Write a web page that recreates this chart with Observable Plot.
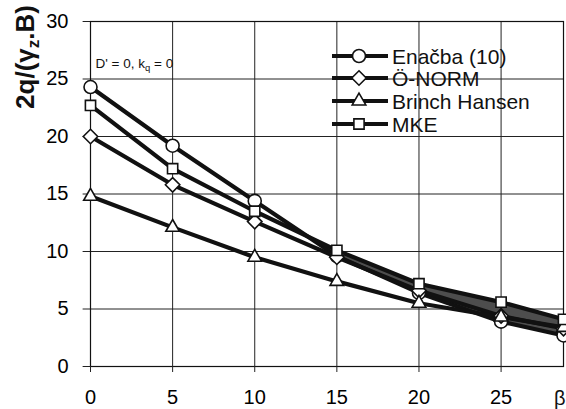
<!DOCTYPE html>
<html>
<head>
<meta charset="utf-8">
<script src="https://cdn.jsdelivr.net/npm/d3@7"></script>
<script src="https://cdn.jsdelivr.net/npm/@observablehq/plot@0.6"></script>
<style>
  html, body { margin: 0; padding: 0; background: #fff; }
  #chart svg { display: block; }
</style>
</head>
<body>
<div id="chart"></div>
<script>
// x values (β); the last point sits at the right edge of the plot, labelled "β"
const beta = [0, 5, 10, 15, 20, 25, 28.8];
const xTicks = [0, 5, 10, 15, 20, 25];
const xTickLabels = ["0", "5", "10", "15", "20", "25"];
const xTitle = "β";
const yTicks = [0, 5, 10, 15, 20, 25, 30];

const seriesNames = ["Enačba (10)", "Ö-NORM", "Brinch Hansen", "MKE"];
const seriesSymbols = ["circle", "diamond2", "triangle2", "square2"];
const enacba = [24.3, 19.2, 14.4, 9.6, 6.4, 3.9, 2.7];
const onorm = [20.0, 15.8, 12.6, 9.5, 6.6, 4.4, 3.3];
const brinch = [14.8, 12.1, 9.5, 7.4, 5.5, 4.3, 3.4];
const mke = [22.7, 17.2, 13.5, 10.1, 7.2, 5.6, 4.1];
const seriesValues = [enacba, onorm, brinch, mke];

const rows = [];
seriesNames.forEach((s, i) => {
  beta.forEach((b, j) => rows.push({series: s, symbol: seriesSymbols[i], x: b, y: seriesValues[i][j]}));
});
// dark overlap band where the thick lines of Enačba, Ö-NORM and MKE run together (β ≥ 15)
const band = beta.map((b, j) => ({
  x: b,
  lo: Math.min(enacba[j], onorm[j], mke[j]),
  hi: Math.max(enacba[j], onorm[j], mke[j])
})).filter(d => d.x >= 15);

const font = "Liberation Sans, Arial, sans-serif";
const xMax = 28.8;

const plot = Plot.plot({
  width: 566,
  height: 409,
  marginLeft: 90,
  marginRight: 3,
  marginTop: 21,
  marginBottom: 43,
  style: {fontFamily: font, background: "#fff"},
  x: {domain: [0, xMax], label: null},
  y: {domain: [0, 30], ticks: yTicks, label: null},
  marks: [
    Plot.gridX(xTicks, {stroke: "#222", strokeOpacity: 1, strokeWidth: 1}),
    Plot.gridY(yTicks, {stroke: "#222", strokeOpacity: 1, strokeWidth: 1, x1: -0.45, x2: xMax}),
    Plot.frame({stroke: "#111", strokeWidth: 1.2}),
    Plot.axisX({ticks: xTicks, tickFormat: (d, i) => xTickLabels[i], tickSize: 6, tickPadding: 17, fontSize: 20, stroke: "#222"}),
    Plot.text([xTitle], {x: xMax, frameAnchor: "bottom", text: d => d, textAnchor: "end", dy: 38, dx: 2, fontSize: 20, fill: "#111"}),
    Plot.axisY({ticks: yTicks, tickSize: 0, tickPadding: 22, fontSize: 20}),
    Plot.areaY(band, {x: "x", y1: "lo", y2: "hi", fill: "#4d4d4d"}),
    Plot.line(rows, {x: "x", y: "y", z: "series", stroke: "#111", strokeWidth: 4.2}),
    Plot.dot(rows, {x: "x", y: "y", symbol: "symbol", r: 6.5, stroke: "#111", strokeWidth: 1.6, fill: "#fff"}),
    Plot.text(["D' = 0, kq = 0"], {frameAnchor: "top-left", dx: 5, dy: 37, text: d => d, fontSize: 13.5, fill: "#111", textAnchor: "start"})
  ]
});

const svg = d3.select(plot);
// annotation with subscript
svg.selectAll("text").filter(function() { return this.textContent === "D' = 0, kq = 0"; })
  .each(function() {
    const t = d3.select(this);
    t.text(null);
    t.append("tspan").text("D' = 0, k");
    t.append("tspan").attr("font-size", 9.5).attr("dy", 3).text("q");
    t.append("tspan").attr("dy", -3).text(" = 0");
  });

// y-axis title
const yt = svg.append("text")
  .attr("transform", "translate(34,57) rotate(-90)")
  .attr("text-anchor", "middle")
  .attr("font-family", font)
  .attr("font-weight", "bold")
  .attr("font-size", 26)
  .attr("fill", "#111");
yt.append("tspan").text("2q/(γ");
yt.append("tspan").attr("font-size", 17).attr("dy", 5).text("z");
yt.append("tspan").attr("dy", -5).text(".B)");

// legend
const lg = svg.append("g").attr("font-family", font).attr("font-size", 21).attr("fill", "#111").attr("text-anchor", "start");
const legY = [56, 78, 101, 124];
const sym = d3.symbol().size(6.5 * 6.5 * Math.PI);
const symTypes = {circle: d3.symbolCircle, diamond2: d3.symbolDiamond2, triangle2: d3.symbolTriangle2, square2: d3.symbolSquare2};
seriesNames.forEach((s, i) => {
  const g = lg.append("g").attr("transform", `translate(0,${legY[i]})`);
  g.append("line").attr("x1", 332).attr("x2", 388).attr("stroke", "#111").attr("stroke-width", 4);
  g.append("path").attr("transform", "translate(359,0)")
    .attr("d", sym.type(symTypes[seriesSymbols[i]])())
    .attr("fill", "#fff").attr("stroke", "#111").attr("stroke-width", 1.6);
  g.append("text").attr("x", 392).attr("dy", "0.36em").attr("text-anchor", "start").text(s);
});

document.getElementById("chart").appendChild(plot);
</script>
</body>
</html>
